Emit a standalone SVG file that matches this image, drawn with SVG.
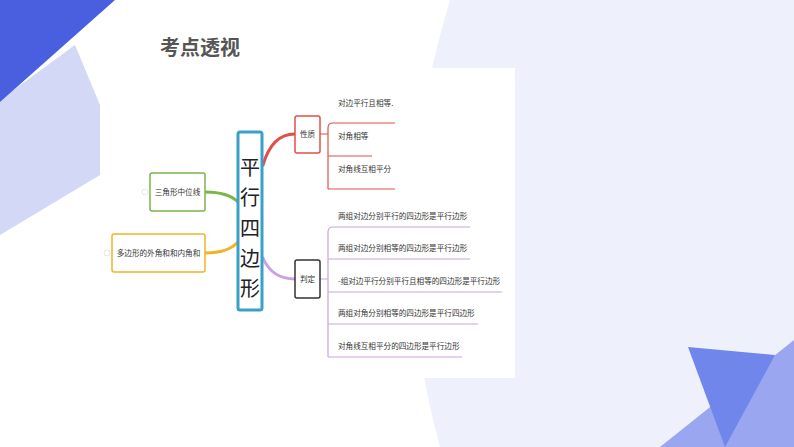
<svg xmlns="http://www.w3.org/2000/svg" width="794" height="447" viewBox="0 0 794 447">
<style>
.t{font-family:"Noto Sans CJK SC","Liberation Sans",sans-serif;font-size:7.6px;fill:#333}
.big{font-family:"Noto Sans CJK SC","Liberation Sans",sans-serif;font-size:20px;fill:#222}
.box{fill:#fff;stroke-width:1.5}
.c{fill:none;stroke-width:3;stroke-linecap:round}
.u{fill:none;stroke-width:1.2}
</style>
<rect width="794" height="447" fill="#fff"/>
<path d="M450,0 L794,0 L794,447 L440,447 Q380,230 450,0Z" fill="#eef1fb"/>
<polygon points="0,100 75,45 100,105 100,175 0,235" fill="#d3d8f6"/>
<polygon points="0,0 115,0 0,102" fill="#4a5ee0"/>
<polygon points="660,447 794,340 794,447" fill="#9aa6f0"/>
<polygon points="688,347 775,355 725,447" fill="#7086ea"/>
<rect x="100" y="68" width="415" height="310" fill="#fff"/>
<text x="160" y="55" font-family="Noto Sans CJK SC,sans-serif" font-size="20" font-weight="bold" fill="#555">考点透视</text>
<g id="connectors">
<path class="c" stroke="#e0504a" d="M263,165 Q272,134 295,134"/>
<path class="c" stroke="#c9a3e0" d="M263,258 Q272,279 295,279"/>
<path class="c" stroke="#7ab648" d="M205,192 Q228,192 238,202"/>
<path class="c" stroke="#f0b429" d="M205,253 Q228,253 238,242"/>
<path class="u" stroke="#e0504a" d="M320,134 H328 M328,189 V128 Q328,123 333,123 H395 M328,156 H372 M328,189 H395"/>
<path class="u" stroke="#c9a3e0" d="M320,279 H328 M328,357 V232 Q328,227 333,227 H470 M328,259 H470 M328,292 H502 M328,324 H478 M328,357 H462"/>
</g>
<g id="center"><rect x="238" y="132" width="24" height="178" rx="2" fill="#fff" stroke="#3aa0c8" stroke-width="3"/>
<text x="250" y="175" class="big" text-anchor="middle">平</text>
<text x="250" y="205" class="big" text-anchor="middle">行</text>
<text x="250" y="236" class="big" text-anchor="middle">四</text>
<text x="250" y="266" class="big" text-anchor="middle">边</text>
<text x="250" y="296" class="big" text-anchor="middle">形</text></g>
<g id="xingzhi"><rect class="box" x="295" y="116" width="25" height="37" rx="2" stroke="#e0504a"/><text class="t" x="307.5" y="137" text-anchor="middle">性质</text></g>
<g id="panding"><rect class="box" x="295" y="260" width="25" height="38" rx="2" stroke="#333"/><text class="t" x="307.5" y="282" text-anchor="middle">判定</text></g>
<g id="sanjiao"><rect class="box" x="150" y="173" width="55" height="38" rx="2" stroke="#7ab648"/><text class="t" x="177.5" y="195" text-anchor="middle">三角形中位线</text>
<circle cx="145" cy="192" r="3" fill="none" stroke="#ddd" stroke-width="0.8"/></g>
<g id="duobian"><rect class="box" x="112" y="234" width="93" height="38" rx="2" stroke="#f0b429"/><text class="t" x="158.5" y="256" text-anchor="middle">多边形的外角和和内角和</text>
<circle cx="107" cy="253" r="3" fill="none" stroke="#ddd" stroke-width="0.8"/></g>
<g id="p1"><text class="t" x="338" y="106">对边平行且相等.</text></g>
<g id="p2"><text class="t" x="338" y="139">对角相等</text></g>
<g id="p3"><text class="t" x="338" y="172">对角线互相平分</text></g>
<g id="d1"><text class="t" x="338" y="219">两组对边分别平行的四边形是平行边形</text></g>
<g id="d2"><text class="t" x="338" y="251">两组对边分别相等的四边形是平行边形</text></g>
<g id="d3"><text class="t" x="338" y="284">-组对边平行分别平行且相等的四边形是平行边形</text></g>
<g id="d4"><text class="t" x="338" y="316">两组对角分别相等的四边形是平行四边形</text></g>
<g id="d5"><text class="t" x="338" y="349">对角线互相平分的四边形是平行边形</text></g>
</svg>
